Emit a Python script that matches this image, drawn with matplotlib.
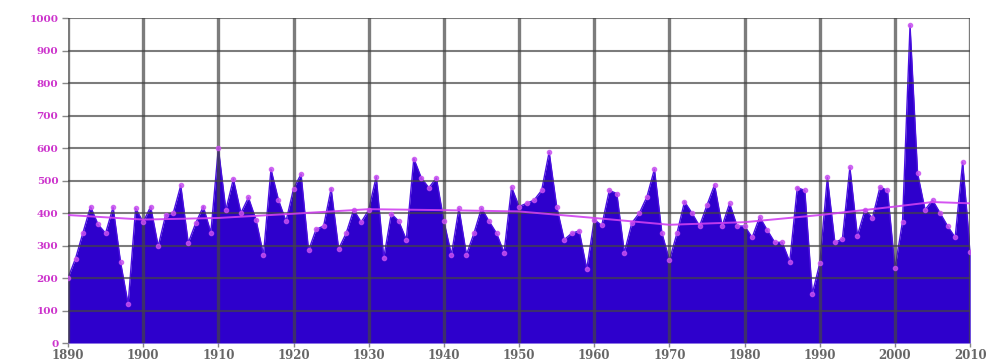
import matplotlib
matplotlib.use('Agg')
import matplotlib.pyplot as plt

# yearly values, 1890..2010
years = list(range(1890, 2011))
values = [
    200, 260, 340, 420, 365, 338, 418, 248, 120, 415,   # 1890s
    372, 420, 298, 395, 400, 485, 308, 370, 420, 340,   # 1900s
    600, 410, 505, 400, 448, 380, 272, 535, 440, 375,   # 1910s
    475, 520, 285, 350, 360, 475, 290, 338, 410, 372,   # 1920s
    410, 512, 262, 398, 375, 318, 568, 508, 478, 508,   # 1930s
    375, 272, 415, 272, 338, 415, 375, 338, 278, 480,   # 1940s
    420, 430, 440, 470, 588, 420, 318, 338, 345, 228,   # 1950s
    380, 362, 470, 460, 278, 370, 400, 450, 535, 338,   # 1960s
    255, 338, 435, 400, 360, 425, 487, 360, 430, 360,   # 1970s
    360, 325, 388, 348, 310, 310, 250, 478, 470, 152,   # 1980s
    246, 510, 310, 320, 541, 330, 410, 385, 480, 470,   # 1990s
    230, 374, 978, 523, 410, 440, 400, 360, 325, 557,   # 2000s
    280,                                                # 2010
]

# smooth trend line, read at a few points
trend_years = [1890, 1900, 1910, 1920, 1930, 1940, 1950, 1960, 1970, 1980, 1990, 2000, 2005, 2010]
trend_vals = [394, 380, 385, 398, 412, 409, 405, 385, 364, 372, 394, 420, 434, 430]

fill_color = '#2e00cc'
mark_color = '#c850f0'
grid_color = '#444444'

fig = plt.figure(figsize=(9.91, 3.63), dpi=100)
ax = fig.add_axes([0.0686, 0.055, 0.9104, 0.895])

ax.fill_between(years, values, 0, color=fill_color, linewidth=0, zorder=2)
ax.plot(years, values, color='#4a10e0', linewidth=1.0, zorder=3)
ax.plot(years, values, linestyle='none', marker='o', markersize=3.0,
        color=mark_color, alpha=0.8, zorder=5)
ax.plot(trend_years, trend_vals, color='#d040f0', linewidth=1.4, alpha=0.9, zorder=6)

ax.set_xlim(1890, 2010)
ax.set_ylim(0, 1000)
ax.set_xticks(range(1890, 2011, 10))
ax.set_yticks(range(0, 1001, 100))

# grid on top of the fill
for x in range(1890, 2011, 10):
    ax.axvline(x, color=grid_color, linewidth=2.4, alpha=0.7, zorder=4)
for y in range(100, 1001, 100):
    ax.axhline(y, color=grid_color, linewidth=1.5, alpha=0.7, zorder=4)

for s in ax.spines.values():
    s.set_visible(False)

ax.tick_params(axis='y', colors='#888888', labelcolor='#cc33cc', length=4, width=1, pad=3)
ax.tick_params(axis='x', colors='#888888', labelcolor='#666666', length=3, width=1, pad=1)
for lab in ax.get_yticklabels():
    lab.set_fontfamily('DejaVu Serif')
    lab.set_fontweight('bold')
    lab.set_fontsize(7.5)
for lab in ax.get_xticklabels():
    lab.set_fontfamily('DejaVu Serif')
    lab.set_fontweight('bold')
    lab.set_fontsize(8.5)

fig.savefig('out.png', dpi=100)
